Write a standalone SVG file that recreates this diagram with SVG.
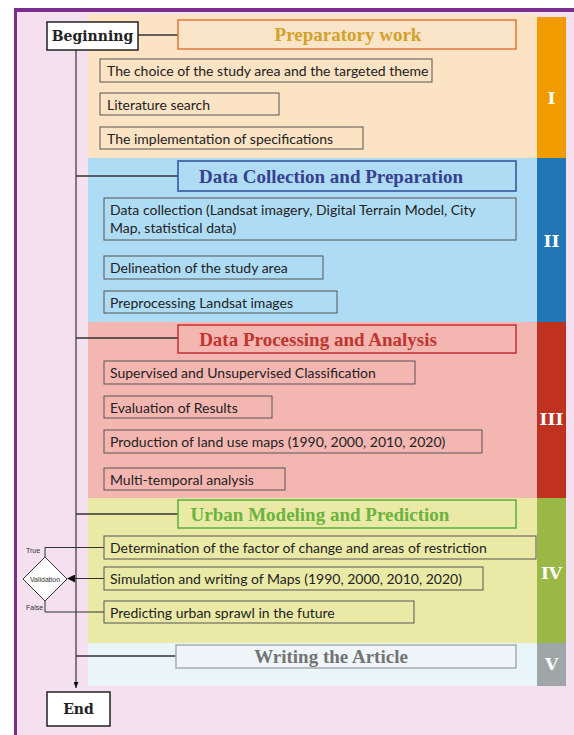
<svg xmlns="http://www.w3.org/2000/svg" width="574" height="735" viewBox="0 0 574 735">
<defs>
<style>
.sub{fill:none;stroke:#555;stroke-width:1}
.st{font-family:Lato,"Liberation Sans",sans-serif;font-size:14px;fill:#222}
.title{font-family:"Liberation Serif","DejaVu Serif",serif;font-weight:bold;font-size:19px;text-anchor:middle}
.rn{font-family:"DejaVu Serif","Liberation Serif",serif;font-weight:bold;font-size:17px;fill:#fff;text-anchor:middle}
.term{fill:#fff;stroke:#222;stroke-width:1.5}
.tt{font-family:"DejaVu Serif","Liberation Serif",serif;font-weight:bold;font-size:14px;fill:#222;text-anchor:middle}
.conn{stroke:#333;stroke-width:1.5;fill:none}
.small{font-family:"Liberation Sans Narrow","Liberation Sans",sans-serif;font-size:7px;fill:#333}
</style>
<marker id="arr" markerWidth="8" markerHeight="8" refX="7" refY="4" orient="auto" markerUnits="userSpaceOnUse">
<path d="M0,0 L8,4 L0,8 z" fill="#111"/>
</marker>
<marker id="arrs" markerWidth="5" markerHeight="6" refX="2.5" refY="6" orient="0" markerUnits="userSpaceOnUse">
<path d="M0,0 L5,0 L2.5,6 z" fill="#111"/>
</marker>
</defs>
<!-- frame -->
<rect x="0" y="0" width="574" height="735" fill="#ffffff"/>
<rect x="15" y="10" width="565" height="730" fill="#f5e0ef"/>
<rect x="14" y="8" width="560" height="4" fill="#7c2e8e"/>
<rect x="14" y="8" width="3" height="727" fill="#7c2e8e"/>

<!-- section backgrounds -->
<rect x="88" y="14" width="450" height="144" fill="#fbe3c4"/>
<rect x="88" y="158" width="450" height="164" fill="#aedcf5"/>
<rect x="88" y="322" width="450" height="176" fill="#f4b6b1"/>
<rect x="88" y="498" width="450" height="145" fill="#eaeaa6"/>
<rect x="88" y="643" width="450" height="43" fill="#e9f5f8"/>

<!-- bands -->
<g id="bandI"><rect x="537" y="17" width="29" height="141" fill="#f29b00"/><text class="rn" x="551.5" y="104">I</text></g>
<g id="bandII"><rect x="537" y="158" width="29" height="164" fill="#2176b5"/><text class="rn" x="551.5" y="247">II</text></g>
<g id="bandIII"><rect x="537" y="322" width="29" height="176" fill="#c0311f"/><text class="rn" x="551.5" y="425">III</text></g>
<g id="bandIV"><rect x="537" y="498" width="29" height="145" fill="#9bb846"/><text class="rn" x="551.5" y="579">IV</text></g>
<g id="bandV"><rect x="537" y="643" width="29" height="43" fill="#9fa6a7"/><text class="rn" x="551.5" y="670">V</text></g>

<!-- connectors -->
<g id="connectors">
<line class="conn" x1="138" y1="35" x2="178" y2="35"/>
<line x1="76" y1="50" x2="76" y2="688" stroke="#333" stroke-width="1.2" marker-end="url(#arrs)"/>
<line class="conn" x1="76" y1="176" x2="178" y2="176"/>
<line class="conn" x1="76" y1="338" x2="178" y2="338"/>
<line class="conn" x1="76" y1="514" x2="178" y2="514"/>
<line class="conn" x1="76" y1="656" x2="176" y2="656"/>
<polyline fill="none" stroke="#333" stroke-width="1" points="104,547.5 45,547.5 45,557"/>
<polyline fill="none" stroke="#333" stroke-width="1" points="45,601 45,612 104,612"/>
<line x1="104" y1="578.5" x2="68" y2="578.5" stroke="#333" stroke-width="1" marker-end="url(#arr)"/>
</g>

<g id="beginning"><rect class="term" x="47" y="22" width="91" height="28"/><text class="tt" x="92.5" y="41">Beginning</text></g>
<g id="end"><rect class="term" x="47" y="692" width="63" height="34"/><text class="tt" x="78.5" y="714">End</text></g>

<g id="validation">
<polygon points="45,557 67,579 45,601 23,579" fill="#fff" stroke="#333" stroke-width="1"/>
<text class="small" x="45" y="581.5" text-anchor="middle">Validation</text>
<text class="small" x="26" y="553">True</text>
<text class="small" x="26" y="610">False</text>
</g>

<!-- I -->
<g id="prep"><rect x="178" y="20" width="338" height="29" fill="#fbe5c9" stroke="#e0783a" stroke-width="1.5"/><text class="title" x="348" y="41" fill="#d4a12a">Preparatory work</text></g>
<g id="s1"><rect class="sub" x="100" y="59" width="332" height="23"/><text class="st" x="107" y="76">The choice of the study area and the targeted theme</text></g>
<g id="s2"><rect class="sub" x="100" y="93" width="179" height="22"/><text class="st" x="107" y="109.5">Literature search</text></g>
<g id="s3"><rect class="sub" x="100" y="127" width="263" height="22"/><text class="st" x="107" y="143.5">The implementation of specifications</text></g>

<!-- II -->
<g id="datacol"><rect x="178" y="161" width="338" height="30" fill="#aedcf5" stroke="#2d4f9e" stroke-width="1.5"/><text class="title" x="331" y="182.5" fill="#36418f">Data Collection and Preparation</text></g>
<g id="s4"><rect class="sub" x="104" y="198" width="412" height="42"/><text class="st" x="110" y="215">Data collection (Landsat imagery, Digital Terrain Model, City</text><text class="st" x="110" y="232.5">Map, statistical data)</text></g>
<g id="s5"><rect class="sub" x="104" y="256" width="219" height="23"/><text class="st" x="110" y="272.5">Delineation of the study area</text></g>
<g id="s6"><rect class="sub" x="104" y="291" width="233" height="22"/><text class="st" x="110" y="307.5">Preprocessing Landsat images</text></g>

<!-- III -->
<g id="dataproc"><rect x="178" y="325" width="338" height="28" fill="#f4b6b1" stroke="#c62d35" stroke-width="1.5"/><text class="title" x="318" y="345.5" fill="#c0352f">Data Processing and Analysis</text></g>
<g id="s7"><rect class="sub" x="104" y="361" width="311" height="23"/><text class="st" x="110" y="378">Supervised and Unsupervised Classification</text></g>
<g id="s8"><rect class="sub" x="104" y="396" width="168" height="22"/><text class="st" x="110" y="412.5">Evaluation of Results</text></g>
<g id="s9"><rect class="sub" x="104" y="430" width="378" height="23"/><text class="st" x="110" y="447">Production of land use maps (1990, 2000, 2010, 2020)</text></g>
<g id="s10"><rect class="sub" x="104" y="468" width="181" height="22"/><text class="st" x="110" y="484.5">Multi-temporal analysis</text></g>

<!-- IV -->
<g id="urban"><rect x="178" y="500" width="338" height="28" fill="#eaeaa6" stroke="#5cae42" stroke-width="1.5"/><text class="title" x="320" y="520.5" fill="#6bb33f">Urban Modeling and Prediction</text></g>
<g id="s11"><rect class="sub" x="104" y="536" width="432" height="23"/><text class="st" x="110" y="553">Determination of the factor of change and areas of restriction</text></g>
<g id="s12"><rect class="sub" x="104" y="567" width="379" height="23"/><text class="st" x="110" y="584">Simulation and writing of Maps (1990, 2000, 2010, 2020)</text></g>
<g id="s13"><rect class="sub" x="104" y="601" width="310" height="22"/><text class="st" x="110" y="617.5">Predicting urban sprawl in the future</text></g>

<!-- V -->
<g id="writing"><rect x="176" y="645" width="340" height="23" fill="#eef6f9" stroke="#aaaaaa" stroke-width="1.5"/><text class="title" x="331" y="662.5" fill="#737373">Writing the Article</text></g>
</svg>
